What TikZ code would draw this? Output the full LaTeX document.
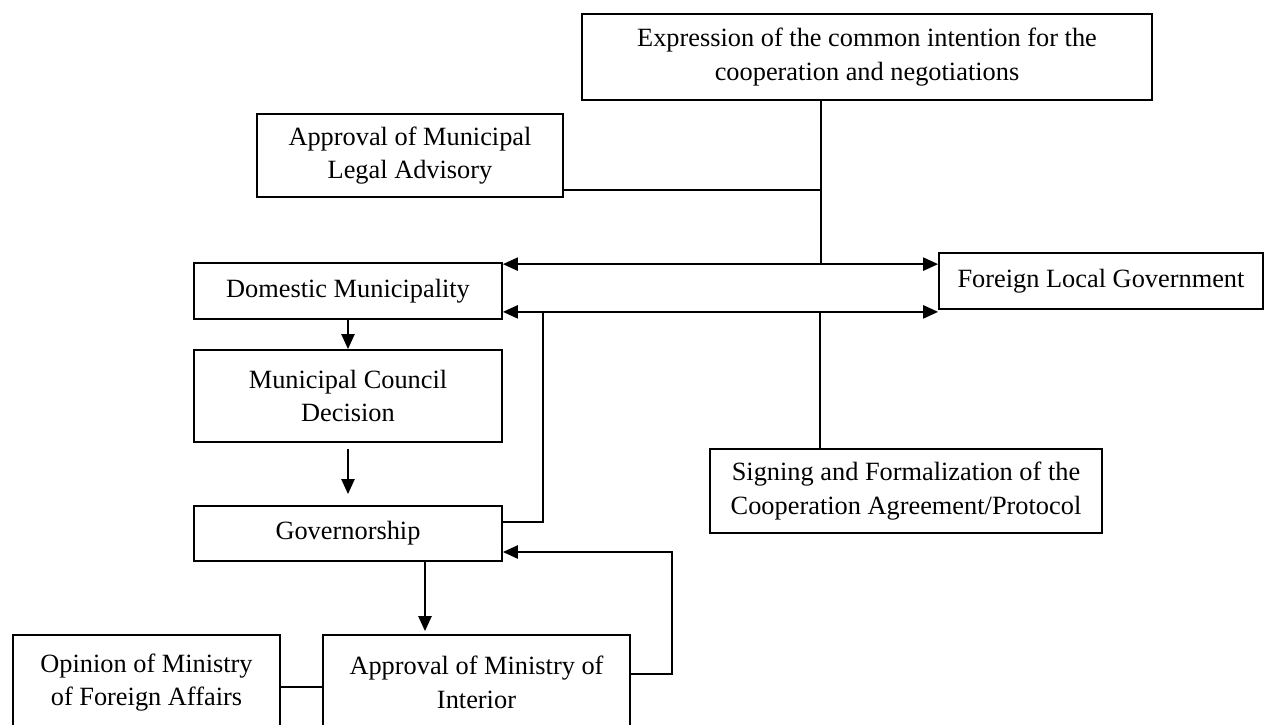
\documentclass[tikz,border=0pt]{standalone}
\usepackage{fontspec}
\setmainfont{Liberation Serif}
\usetikzlibrary{arrows.meta}

\begin{document}
\begin{tikzpicture}[x=0.02cm, y=-0.02cm,
    box/.style={draw, line width=1pt, align=center, inner sep=0pt,
      font=\fontsize{15}{19}\selectfont},
    link/.style={line width=1pt},
    flow/.style={line width=1.3pt, -{Triangle[length=0.3cm,width=0.26cm]}},
    twoway/.style={line width=1.3pt,
      {Triangle[length=0.3cm,width=0.26cm]}-{Triangle[length=0.3cm,width=0.26cm]}}]
  \useasboundingbox (0,0) rectangle (1271,724);
  % boxes
  \node [box, minimum width=11.4cm, minimum height=1.72cm] (expr) at (867,57)
    {Expression of the common intention for the\\cooperation and negotiations};
  \node [box, minimum width=6.12cm, minimum height=1.66cm] (legal) at (410,155.5)
    {Approval of Municipal\\Legal Advisory};
  \node [box, minimum width=6.16cm, minimum height=1.12cm] (dom) at (348,291)
    {Domestic Municipality};
  \node [box, minimum width=6.48cm, minimum height=1.12cm] (foreign) at (1101,281)
    {Foreign Local Government};
  \node [box, minimum width=6.16cm, minimum height=1.84cm] (council) at (348,396)
    {Municipal Council\\Decision};
  \node [box, minimum width=6.16cm, minimum height=1.10cm] (gov) at (348,533.5)
    {Governorship};
  \node [box, minimum width=7.84cm, minimum height=1.68cm] (sign) at (906,491)
    {Signing and Formalization of the\\Cooperation Agreement/Protocol};
  \node [box, minimum width=5.34cm, minimum height=1.9cm] (opinion) at (146.5,682.5)
    {Opinion of Ministry\\of Foreign Affairs};
  \node [box, minimum width=6.14cm, minimum height=1.9cm] (ministry) at (476.5,682.5)
    {Approval of Ministry of\\Interior};
  % junctions
  \coordinate (topjoin) at (821,265);
  \coordinate (lowjoin) at (820,311);
  \coordinate (govjoin) at (543,311);
  % connectors
  \draw [link] (expr.south -| topjoin) -- (topjoin);
  \draw [link] ([yshift=0.16cm]legal.south east) -- ([yshift=0.16cm]legal.south east -| topjoin);
  \draw [twoway] ([yshift=-0.04cm]dom.north east) -- ([yshift=-0.04cm]dom.north east -| foreign.west);
  \draw [twoway] ([yshift=0.16cm]dom.south east) -- ([yshift=0.16cm]dom.south east -| foreign.west);
  \draw [link] (lowjoin) -- (lowjoin |- sign.north);
  \draw [link] (govjoin) |- ([yshift=0.23cm]gov.east);
  \draw [flow] (dom.south) -- (council.north);
  \draw [flow, shorten <=0.12cm, shorten >=0.22cm] (council.south) -- (gov.north);
  \draw [flow, shorten >=0.06cm] ([xshift=1.54cm]gov.south) -- ([xshift=1.54cm]gov.south |- ministry.north);
  \draw [link] ([yshift=-0.09cm]opinion.east) -- ([yshift=-0.09cm]opinion.east -| ministry.west);
  \draw [flow] ([yshift=0.17cm]ministry.east) -- ++(0.82cm,0) |- ([yshift=-0.37cm]gov.east);
\end{tikzpicture}
\end{document}
